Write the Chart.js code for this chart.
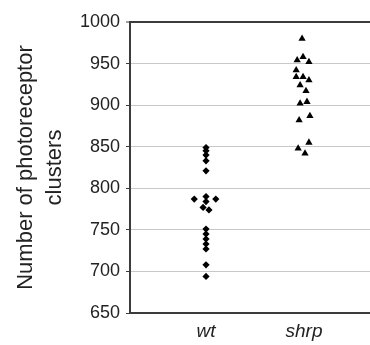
<!DOCTYPE html>
<html>
<head>
<meta charset="utf-8">
<script src="https://cdn.jsdelivr.net/npm/chart.js@4"></script>
<style>
  html, body { margin: 0; padding: 0; background: #fff; }
  #wrap { width: 370px; height: 345px; }
</style>
</head>
<body>
<div id="wrap"><canvas id="chart" width="370" height="345"></canvas></div>
<script>
// categorias en el eje x (posicion 1 y 2)
const categorias = ['wt', 'shrp'];

// valores
const wtValores = [849, 845, 840, 833, 821, 787, 790, 784, 787, 777, 774, 751, 745, 739, 733, 727, 708, 694];
const wtDesplaz = [0, 0, 0, 0, 0, -0.12, 0, 0, 0.1, -0.03, 0.03, 0, 0, 0, 0, 0, 0, 0];

const shrpValores = [980, 954, 958, 952, 942, 934, 934, 930, 924, 917, 902, 904, 887, 882, 855, 848, 842];
const shrpDesplaz = [-0.02, -0.07, -0.01, 0.05, -0.08, -0.08, -0.01, 0.05, -0.04, 0.02, -0.04, 0.03, 0.06, -0.05, 0.05, -0.06, 0.01];

const yTicks = [650, 700, 750, 800, 850, 900, 950, 1000];

function puntos(pos, valores, desplaz) {
  return valores.map((v, i) => ({ x: pos + desplaz[i], y: v }));
}

const fuente = "'Liberation Sans', Arial, Helvetica, sans-serif";

new Chart(document.getElementById('chart'), {
  type: 'scatter',
  data: {
    datasets: [{
      label: categorias[0],
      data: puntos(1, wtValores, wtDesplaz),
      pointStyle: 'rectRot',
      pointRadius: 3.6,
      backgroundColor: '#000',
      borderColor: '#000',
      borderWidth: 0
    }, {
      label: categorias[1],
      data: puntos(2, shrpValores, shrpDesplaz),
      pointStyle: 'triangle',
      pointRadius: 4.2,
      backgroundColor: '#000',
      borderColor: '#000',
      borderWidth: 0
    }]
  },
  options: {
    responsive: false,
    animation: false,
    layout: { autoPadding: false, padding: { top: 22, right: 0, left: 0, bottom: 0 } },
    plugins: {
      legend: { display: false },
      tooltip: { enabled: false }
    },
    scales: {
      x: {
        type: 'linear',
        min: 0.2245,
        max: 2.673,
        afterBuildTicks: s => { s.ticks = [{ value: 1 }, { value: 2 }]; },
        afterFit: s => { s.height = 32; },
        grid: { display: false, drawTicks: false },
        border: { display: true, color: '#3c3c3c', width: 2 },
        ticks: {
          padding: 7,
          color: '#222',
          font: { family: fuente, size: 19, style: 'italic' },
          callback: v => categorias[v - 1]
        }
      },
      y: {
        min: 650,
        max: 1000,
        afterBuildTicks: s => { s.ticks = yTicks.map(v => ({ value: v })); },
        afterFit: s => { s.width = 130; },
        grid: {
          color: c => c.tick && c.tick.value === 1000 ? '#3c3c3c' : '#c8c8c8',
          lineWidth: c => c.tick && c.tick.value === 1000 ? 2 : 1,
          tickColor: '#3c3c3c',
          tickWidth: 1,
          tickLength: 4
        },
        border: { display: true, color: '#3c3c3c', width: 2 },
        ticks: {
          padding: 6,
          color: '#222',
          font: { family: fuente, size: 18 },
          callback: v => String(v) // sin separador de miles
        },
        title: {
          display: true,
          text: ['Number of photoreceptor', 'clusters'],
          color: '#222',
          padding: { top: 12, bottom: 0 },
          font: { family: fuente, size: 22, lineHeight: 1.3 }
        }
      }
    }
  }
});
</script>
</body>
</html>
